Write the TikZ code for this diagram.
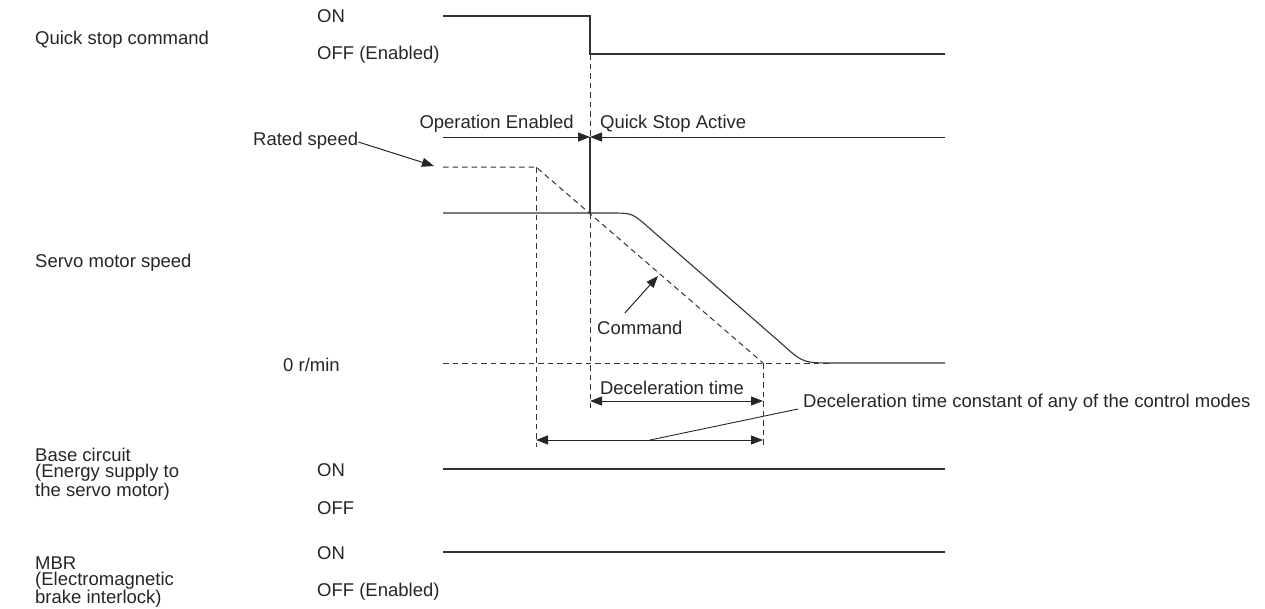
\documentclass[tikz,border=0pt]{standalone}
\usepackage{fontspec}
\setmainfont{Liberation Sans}
\usetikzlibrary{arrows.meta, positioning, calc}
\newcommand{\chartfont}{\fontsize{18.5}{16.5}\selectfont}
\tikzset{
  % Timing chart styles
  signal/.style={line width=1.1pt, draw=black!80},
  guide/.style={line width=1pt, draw=black!80, dash pattern=on 5.5pt off 4pt},
  label/.style={font=\chartfont, inner sep=0pt, anchor=west, text=black!85, align=left},
  pointer/.style={-{Triangle[length=12pt, width=9pt]}, line width=1pt, draw=black!85},
  dimline/.style={{Triangle[length=12pt, width=9pt]}-{Triangle[length=12pt, width=9pt]}, line width=1pt, draw=black!85},
  leader/.style={line width=0.9pt, draw=black!85},
}

\begin{document}
\begin{tikzpicture}[x=1pt, y=-1pt]
    \useasboundingbox (0,0) rectangle (1265,608);

    % Signal names
    \node[label] (qsname) at (35,40) {Quick stop command};
    \node[label] (spname) at (35,263) {Servo motor speed};
    \node[label] (bcname) at (35,474) {Base circuit\\(Energy supply to\\the servo motor)};
    \node[label] (mbname) at (35,582) {MBR\\(Electromagnetic\\brake interlock)};

    % Signal states
    \foreach \i/\y/\txt in {0/16/ON, 1/55/OFF (Enabled), 2/470/ON, 3/508/OFF, 4/553/ON, 5/592/OFF (Enabled)} {
      \node[label] (st\i) at (317,\y) {\txt};
    }
    \node[label] (zero) at (283,365) {0 r/min};

    % Time marks
    \coordinate (tA) at (536,0);
    \coordinate (tB) at (590,0);
    \coordinate (tC) at (763,0);

    % Quick stop command
    \draw[signal] (443,16) -- (tB |- 0,16) -- (tB |- 0,54) -- (945,54);
    \draw[guide] (tB |- 0,54) -- (tB |- 0,137);

    % State arrows
    \coordinate (qs) at (tB |- 0,137);
    \node[label, anchor=east] (opena) at (574,124) {Operation Enabled};
    \node[label] (qsact) at (600,124) {Quick Stop Active};
    \draw[pointer] (443,137) -- (qs);
    \draw[pointer] (945,137) -- (qs);
    \draw[signal] (qs) -- (tB |- 0,213);

    % Command (dashed)
    \node[label] (rated) at (253,141) {Rated speed};
    \coordinate (ratedtip) at (434,166);
    \draw[pointer] ([yshift=-1pt]rated.east) -- (ratedtip);
    \draw[guide] (443,167) -- (tA |- 0,167) -- (tC |- 0,363);
    \draw[guide] (443,363) -- (830,363);
    \draw[guide] (tA |- 0,167) -- (tA |- 0,447);
    \draw[guide] (tB |- 0,213) -- (tB |- 0,408);
    \draw[guide] (tC |- 0,363) -- (tC |- 0,447);

    \node[label] (cmd) at (597,328) {Command};
    \coordinate (cmdtip) at (658,276);
    \draw[pointer] ([xshift=-15pt, yshift=8pt]cmd.north) -- (cmdtip);

    % Servo motor speed
    \draw[signal] (443,213) -- (610,213) .. controls (632,213) .. (648,227) -- (782,344) .. controls (803,363) .. (835,363) -- (945,363);

    % Deceleration times
    \node[label, anchor=center] (dtime) at (672,388) {Deceleration time};
    \draw[dimline] (tB |- 0,401) -- (tC |- 0,401);
    \draw[dimline] (tA |- 0,440) -- (tC |- 0,440);
    \coordinate (lead) at (650,440);
    \node[label] (dconst) at (803,403) {Deceleration time constant of any of the control modes};
    \draw[leader] (lead) -- ([xshift=-5pt, yshift=-6pt]dconst.west);

    % Base circuit and MBR
    \draw[signal] (443,469) -- (945,469);
    \draw[signal] (443,552) -- (945,552);
  \end{tikzpicture}
\end{document}
